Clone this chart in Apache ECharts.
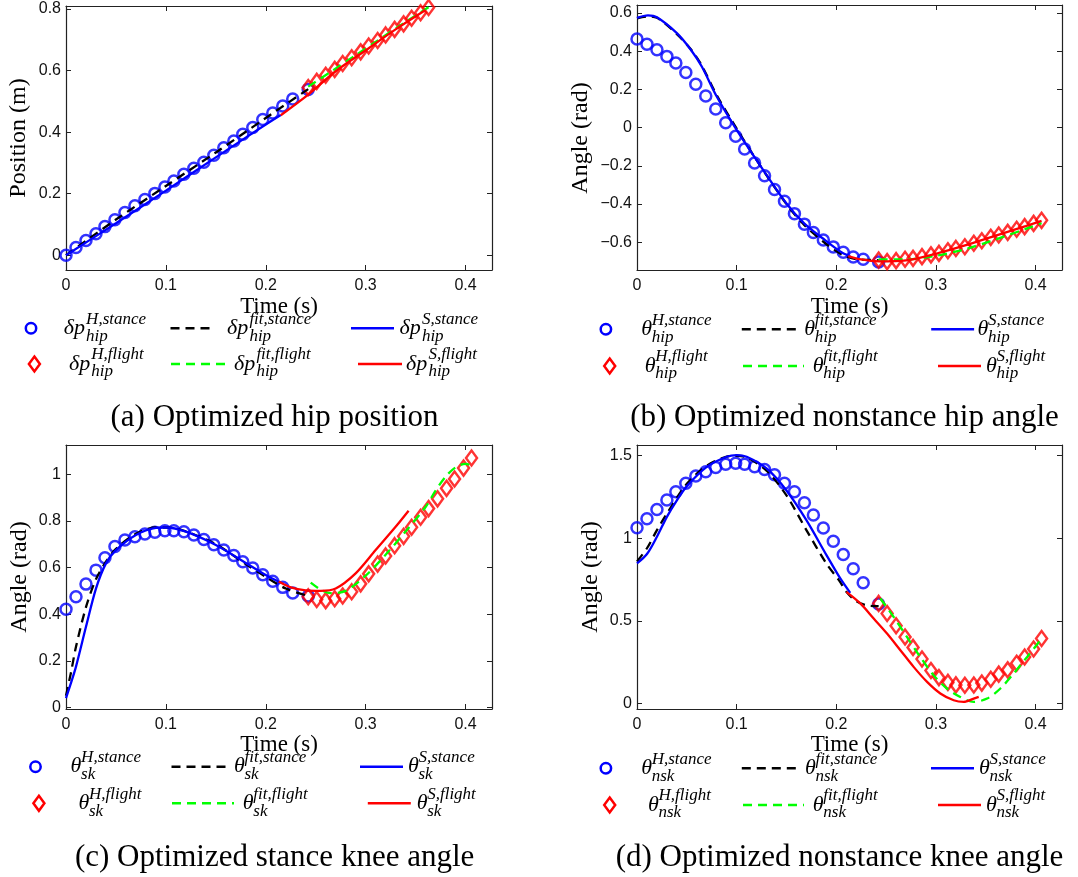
<!DOCTYPE html>
<html>
<head>
<meta charset="utf-8">
<script src="https://cdn.jsdelivr.net/npm/echarts@6/dist/echarts.min.js"></script>
<style>
  html, body { margin: 0; padding: 0; background: #fff; }
  #chart { width: 1078px; height: 877px; }
</style>
</head>
<body>
<div id="chart"></div>
<script>
// ---- sample times (s) ----
const tStanceH = [0, 0.010, 0.020, 0.030, 0.039, 0.049, 0.059, 0.069, 0.079, 0.089, 0.099, 0.108, 0.118,
  0.128, 0.138, 0.148, 0.158, 0.168, 0.177, 0.187, 0.197, 0.207, 0.217, 0.227, 0.2425];
const tFlightH = [0.2425, 0.251, 0.260, 0.269, 0.277, 0.286, 0.295, 0.303, 0.312, 0.320, 0.329, 0.338,
  0.346, 0.355, 0.363, 0.372, 0.381, 0.389, 0.398, 0.406];

// ---- tick values ----
const xTicks = [0, 0.1, 0.2, 0.3, 0.4];
const yTicksA = [0, 0.2, 0.4, 0.6, 0.8];
const yTicksB = [-0.6, -0.4, -0.2, 0, 0.2, 0.4, 0.6];
const yTicksC = [0, 0.2, 0.4, 0.6, 0.8, 1];
const yTicksD = [0, 0.5, 1, 1.5];

// ---- (a) hip position (m) ----
const hipPosHStance = [0, 0.025, 0.048, 0.070, 0.093, 0.115, 0.139, 0.161, 0.181, 0.201, 0.222, 0.241, 0.263,
  0.283, 0.302, 0.325, 0.349, 0.371, 0.393, 0.415, 0.441, 0.462, 0.485, 0.508, 0.539];
const hipPosHFlight = [0.545, 0.565, 0.585, 0.604, 0.623, 0.642, 0.661, 0.680, 0.698, 0.716, 0.734, 0.752,
  0.770, 0.788, 0.805];
const hipPosFitStanceT = [0, 0.05, 0.1, 0.15, 0.2, 0.2425];
const hipPosFitStance = [0, 0.116, 0.225, 0.334, 0.446, 0.540];
const hipPosSStanceT = [0, 0.05, 0.1, 0.15, 0.2, 0.215];
const hipPosSStance = [0, 0.104, 0.210, 0.318, 0.425, 0.456];
const hipPosFitFlightT = [0.2425, 0.267, 0.29, 0.313, 0.337, 0.363];
const hipPosFitFlight = [0.548, 0.600, 0.650, 0.700, 0.752, 0.806];
const hipPosSFlightT = [0.215, 0.2425, 0.27, 0.30, 0.33, 0.36];
const hipPosSFlight = [0.455, 0.522, 0.598, 0.666, 0.734, 0.797];

// ---- (b) nonstance hip angle (rad) ----
const hipAngHStance = [0.464, 0.437, 0.408, 0.373, 0.338, 0.289, 0.227, 0.166, 0.098, 0.026, -0.045, -0.112,
  -0.185, -0.252, -0.324, -0.385, -0.450, -0.505, -0.549, -0.588, -0.624, -0.652, -0.677, -0.689, -0.703];
const hipAngHFlight = [-0.693, -0.701, -0.696, -0.689, -0.684, -0.675, -0.666, -0.658, -0.644, -0.632, -0.623,
  -0.605, -0.592, -0.574, -0.562, -0.548, -0.532, -0.518, -0.501, -0.485];
const hipAngFitStanceT = [0, 0.01, 0.02, 0.04, 0.054, 0.065, 0.08, 0.1, 0.12, 0.15, 0.168, 0.189, 0.206, 0.22, 0.2425];
const hipAngFitStance = [0.572, 0.582, 0.575, 0.49, 0.41, 0.325, 0.17, -0.005, -0.17, -0.40, -0.51, -0.605, -0.665, -0.688, -0.693];
const hipAngSStanceT = [0, 0.011, 0.02, 0.04, 0.054, 0.065, 0.08, 0.1, 0.12, 0.15, 0.168, 0.189, 0.206, 0.214];
const hipAngSStance = [0.575, 0.588, 0.578, 0.495, 0.408, 0.32, 0.163, -0.012, -0.17, -0.397, -0.502, -0.59, -0.655, -0.672];
const hipAngFitFlightT = [0.2425, 0.27, 0.30, 0.33, 0.36, 0.39, 0.406];
const hipAngFitFlight = [-0.69, -0.69, -0.67, -0.635, -0.585, -0.53, -0.50];
const hipAngSFlightT = [0.212, 0.225, 0.2425, 0.27, 0.30, 0.33, 0.36, 0.39, 0.406];
const hipAngSFlight = [-0.672, -0.69, -0.70, -0.695, -0.66, -0.615, -0.565, -0.515, -0.488];

// ---- (c) stance knee angle (rad) ----
const skHStance = [0.421, 0.475, 0.529, 0.589, 0.642, 0.690, 0.718, 0.732, 0.744, 0.752, 0.758, 0.758, 0.754,
  0.740, 0.720, 0.698, 0.675, 0.652, 0.625, 0.598, 0.569, 0.541, 0.515, 0.491, 0.478];
const skHFlight = [0.475, 0.463, 0.458, 0.466, 0.478, 0.496, 0.530, 0.573, 0.615, 0.650, 0.694, 0.734,
  0.773, 0.816, 0.853, 0.895, 0.940, 0.980, 1.027, 1.070];
const skFitStanceT = [0, 0.005, 0.01, 0.02, 0.03, 0.04, 0.05, 0.07, 0.09, 0.1, 0.12, 0.15, 0.18, 0.2, 0.22, 0.2425];
const skFitStance = [0.05, 0.15, 0.26, 0.43, 0.55, 0.625, 0.68, 0.745, 0.772, 0.772, 0.755, 0.70, 0.615, 0.56, 0.51, 0.478];
const skSStanceT = [0, 0.005, 0.01, 0.02, 0.03, 0.04, 0.05, 0.07, 0.09, 0.1, 0.12, 0.15, 0.18, 0.2, 0.215];
const skSStance = [0.04, 0.105, 0.175, 0.346, 0.51, 0.618, 0.675, 0.74, 0.77, 0.772, 0.754, 0.697, 0.62, 0.568, 0.535];
const skFitFlightT = [0.245, 0.255, 0.265, 0.28, 0.30, 0.32, 0.34, 0.36, 0.37, 0.38, 0.39, 0.40, 0.405];
const skFitFlight = [0.535, 0.505, 0.49, 0.50, 0.565, 0.655, 0.755, 0.86, 0.93, 0.99, 1.03, 1.045, 1.04];
const skSFlightT = [0.213, 0.225, 0.24, 0.255, 0.27, 0.29, 0.31, 0.33, 0.343];
const skSFlight = [0.54, 0.515, 0.502, 0.50, 0.51, 0.575, 0.675, 0.775, 0.844];

// ---- (d) nonstance knee angle (rad) ----
const nskHStance = [1.064, 1.119, 1.175, 1.232, 1.282, 1.333, 1.377, 1.403, 1.429, 1.448, 1.454, 1.448, 1.433,
  1.417, 1.385, 1.333, 1.282, 1.215, 1.141, 1.062, 0.983, 0.902, 0.816, 0.731, 0.602];
const nskHFlight = [0.606, 0.545, 0.471, 0.403, 0.340, 0.270, 0.200, 0.157, 0.128, 0.113, 0.111, 0.112,
  0.124, 0.147, 0.178, 0.204, 0.244, 0.282, 0.330, 0.394];
const nskFitStanceT = [0, 0.01, 0.02, 0.03, 0.05, 0.07, 0.09, 0.1, 0.11, 0.13, 0.15, 0.17, 0.19, 0.2026, 0.211, 0.22, 0.23, 0.2425];
const nskFitStance = [0.86, 0.94, 1.05, 1.15, 1.33, 1.44, 1.495, 1.50, 1.49, 1.41, 1.26, 1.05, 0.848, 0.747, 0.67, 0.62, 0.595, 0.59];
const nskSStanceT = [0, 0.01, 0.02, 0.03, 0.04, 0.05, 0.07, 0.09, 0.1, 0.11, 0.13, 0.15, 0.17, 0.19, 0.204, 0.214];
const nskSStance = [0.848, 0.905, 1.01, 1.13, 1.23, 1.316, 1.433, 1.494, 1.504, 1.494, 1.423, 1.29, 1.11, 0.90, 0.757, 0.67];
const nskFitFlightT = [0.2442, 0.2575, 0.2709, 0.2843, 0.2977, 0.311, 0.3244, 0.3379, 0.3513, 0.3647, 0.378, 0.3915, 0.4048];
const nskFitFlight = [0.636, 0.525, 0.403, 0.282, 0.171, 0.091, 0.04, 0.01, 0.03, 0.091, 0.182, 0.282, 0.383];
const nskSFlightT = [0.2101, 0.2241, 0.2375, 0.2509, 0.2643, 0.2776, 0.2911, 0.3044, 0.3178, 0.3279, 0.3379, 0.3429];
const nskSFlight = [0.676, 0.606, 0.515, 0.424, 0.323, 0.222, 0.131, 0.061, 0.02, 0.01, 0.03, 0.04];

// ---- styling ----
const BLUE = '#0000ff', RED = '#ff0000', GREEN = '#00ff00', BLACK = '#000000';
const AXIS = '#222222';
const X_MAX = 0.4265;
const SERIF = '"Liberation Serif", "Times New Roman", serif';
const SANS = '"Liberation Sans", Arial, sans-serif';
const DASH = [9, 6];

const pairs = (ts, vs) => ts.map((t, i) => [t, vs[i]]);
const fmtTick = v => {
  const r = Math.round(v * 100) / 100;
  return (r < 0 ? '\u2212' : '') + String(Math.abs(r));
};

const panels = [
  {
    grid: { left: 66, top: 6, width: 426, height: 264 },
    yMin: -0.048, yMax: 0.81, yTicks: yTicksA,
    hS: pairs(tStanceH, hipPosHStance), hF: pairs(tFlightH.slice(0, 15), hipPosHFlight),
    fitS: pairs(hipPosFitStanceT, hipPosFitStance), sS: pairs(hipPosSStanceT, hipPosSStance),
    fitF: pairs(hipPosFitFlightT, hipPosFitFlight), sF: pairs(hipPosSFlightT, hipPosSFlight)
  },
  {
    grid: { left: 637, top: 5, width: 425, height: 265 },
    yMin: -0.745, yMax: 0.642, yTicks: yTicksB,
    hS: pairs(tStanceH, hipAngHStance), hF: pairs(tFlightH, hipAngHFlight),
    fitS: pairs(hipAngFitStanceT, hipAngFitStance), sS: pairs(hipAngSStanceT, hipAngSStance),
    fitF: pairs(hipAngFitFlightT, hipAngFitFlight), sF: pairs(hipAngSFlightT, hipAngSFlight)
  },
  {
    grid: { left: 66, top: 445, width: 426, height: 264 },
    yMin: -0.007, yMax: 1.126, yTicks: yTicksC,
    hS: pairs(tStanceH, skHStance), hF: pairs(tFlightH, skHFlight),
    fitS: pairs(skFitStanceT, skFitStance), sS: pairs(skSStanceT, skSStance),
    fitF: pairs(skFitFlightT, skFitFlight), sF: pairs(skSFlightT, skSFlight)
  },
  {
    grid: { left: 637, top: 445, width: 425, height: 264 },
    yMin: -0.033, yMax: 1.565, yTicks: yTicksD,
    hS: pairs(tStanceH, nskHStance), hF: pairs(tFlightH, nskHFlight),
    fitS: pairs(nskFitStanceT, nskFitStance), sS: pairs(nskSStanceT, nskSStance),
    fitF: pairs(nskFitFlightT, nskFitFlight), sF: pairs(nskSFlightT, nskSFlight)
  }
];

const xAxes = [], yAxes = [], series = [];
panels.forEach((p, g) => {
  const tickStyle = { lineStyle: { color: AXIS, width: 1 } };
  ['bottom', 'top'].forEach(pos => {
    xAxes.push({
      type: 'value', gridIndex: g, position: pos, min: 0, max: X_MAX,
      axisLine: { show: true, onZero: false, lineStyle: { color: AXIS, width: 1.2 } },
      axisTick: Object.assign({ show: true, inside: true, length: 5, customValues: xTicks }, tickStyle),
      axisLabel: pos === 'bottom'
        ? { show: true, customValues: xTicks, formatter: fmtTick, margin: 8, color: '#111', fontFamily: SANS, fontSize: 16 }
        : { show: false },
      splitLine: { show: false }
    });
  });
  ['left', 'right'].forEach(pos => {
    yAxes.push({
      type: 'value', gridIndex: g, position: pos, min: p.yMin, max: p.yMax,
      axisLine: { show: true, onZero: false, lineStyle: { color: AXIS, width: 1.2 } },
      axisTick: Object.assign({ show: true, inside: true, length: 5, customValues: p.yTicks }, tickStyle),
      axisLabel: pos === 'left'
        ? { show: true, customValues: p.yTicks, formatter: fmtTick, margin: 5, color: '#111', fontFamily: SANS, fontSize: 16 }
        : { show: false },
      splitLine: { show: false }
    });
  });
  const ax = { xAxisIndex: 2 * g, yAxisIndex: 2 * g };
  const line = (data, color, dashed) => Object.assign({
    type: 'line', data, showSymbol: false, smooth: 0.3, silent: true,
    lineStyle: { color, width: 2.3, type: dashed ? DASH : 'solid' }
  }, ax);
  series.push(Object.assign({
    type: 'scatter', data: p.hS, symbol: 'circle', symbolSize: 11, silent: true,
    itemStyle: { color: 'rgba(0,0,0,0)', borderColor: BLUE, borderWidth: 2.5 }
  }, ax));
  series.push(line(p.fitS, BLACK, true));
  series.push(line(p.sS, BLUE, false));
  series.push(Object.assign({
    type: 'scatter', data: p.hF, symbol: 'diamond', symbolSize: [11, 15], silent: true,
    itemStyle: { color: 'rgba(0,0,0,0)', borderColor: RED, borderWidth: 2.5 }
  }, ax));
  series.push(line(p.fitF, GREEN, true));
  series.push(line(p.sF, RED, false));
});

// ---- text and legend graphics ----
const elements = [];
const txt = (x, y, text, font, extra) => elements.push(Object.assign({
  type: 'text', x, y, silent: true,
  style: { text, font, fill: '#000', align: 'center', verticalAlign: 'middle', textAlign: 'center', textVerticalAlign: 'middle' }
}, extra || {}));

// axis titles
[['Position (m)', 19, 138], ['Angle (rad)', 580.5, 138], ['Angle (rad)', 20, 577], ['Angle (rad)', 590.6, 577]]
  .forEach(([s, x, y]) => txt(x, y, s, '24px ' + SERIF, { rotation: Math.PI / 2 }));
[[279, 307], [849.5, 307], [279, 745], [849.5, 745]].forEach(([x, y]) => txt(x, y, 'Time (s)', '23px ' + SERIF));

// captions
[['(a) Optimized hip position', 274.5, 418], ['(b) Optimized nonstance hip angle', 844.5, 418],
 ['(c) Optimized stance knee angle', 274.6, 858], ['(d) Optimized nonstance knee angle', 839.5, 858]]
  .forEach(([s, x, y]) => txt(x, y, s, '31px ' + SERIF));

function mathLabel(x, y, base, bw, sup, sub) {
  const left = { align: 'left', verticalAlign: 'middle', textAlign: 'left', textVerticalAlign: 'middle', fill: '#000' };
  elements.push({ type: 'text', x, y, silent: true, style: Object.assign({ text: base, font: 'italic 22px ' + SERIF }, left) });
  elements.push({ type: 'text', x: x + bw, y: y - 9, silent: true, style: Object.assign({ text: sup, font: 'italic 17px ' + SERIF }, left) });
  elements.push({ type: 'text', x: x + bw, y: y + 8, silent: true, style: Object.assign({ text: sub, font: 'italic 17px ' + SERIF }, left) });
}
function legCircle(cx, cy) {
  elements.push({ type: 'circle', silent: true, shape: { cx, cy, r: 5.2 }, style: { fill: 'none', stroke: BLUE, lineWidth: 2.5 } });
}
function legDiamond(cx, cy) {
  elements.push({ type: 'polygon', silent: true, shape: { points: [[cx, cy - 7.5], [cx + 5.5, cy], [cx, cy + 7.5], [cx - 5.5, cy]] },
    style: { fill: 'none', stroke: RED, lineWidth: 2.5 } });
}
function legLine(x1, x2, y, color, dashed) {
  elements.push({ type: 'line', silent: true, shape: { x1, y1: y, x2, y2: y },
    style: { stroke: color, lineWidth: 2.5, lineDash: dashed ? DASH : null } });
}

const legendSpecs = [
  { y: [328.3, 364], base: '\u03b4p', bw: 22.4, sub: 'hip', sym: [31, 34.4],
    tx: [[63.7, 227, 399.5], [68.9, 234, 406]], ln: [[[170.5, 213.5], [351, 394]], [[171, 227], [358, 402]]] },
  { y: [329.3, 366], base: '\u03b8', bw: 10.5, sub: 'hip', sym: [605.9, 609.7],
    tx: [[641.2, 804.2, 977.5], [644.7, 812.8, 986]], ln: [[[741.8, 799], [931.2, 974.1]], [[743, 804], [938, 981]]] },
  { y: [766.7, 803.3], base: '\u03b8', bw: 10.5, sub: 'sk', sym: [35.5, 38.9],
    tx: [[70.6, 234, 408], [78.5, 242.8, 416.7]], ln: [[[171.5, 229], [360, 403]], [[172, 234], [367.8, 410.8]]] },
  { y: [768.3, 805], base: '\u03b8', bw: 10.5, sub: 'nsk', sym: [605.9, 609.7],
    tx: [[641.2, 805, 979], [648, 812.8, 986]], ln: [[[741.8, 799], [931, 974]], [[743, 804], [938, 981]]] }
];
const supRows = [['H,stance', 'fit,stance', 'S,stance'], ['H,flight', 'fit,flight', 'S,flight']];

legendSpecs.forEach(L => {
  legCircle(L.sym[0], L.y[0]);
  legDiamond(L.sym[1], L.y[1]);
  legLine(L.ln[0][0][0], L.ln[0][0][1], L.y[0], BLACK, true);
  legLine(L.ln[0][1][0], L.ln[0][1][1], L.y[0], BLUE, false);
  legLine(L.ln[1][0][0], L.ln[1][0][1], L.y[1], GREEN, true);
  legLine(L.ln[1][1][0], L.ln[1][1][1], L.y[1], RED, false);
  for (let r = 0; r < 2; r++) {
    for (let c = 0; c < 3; c++) {
      mathLabel(L.tx[r][c], L.y[r], L.base, L.bw, supRows[r][c], L.sub);
    }
  }
});

const chart = echarts.init(document.getElementById('chart'), null, { renderer: 'canvas' });
chart.setOption({
  animation: false,
  backgroundColor: '#ffffff',
  grid: panels.map(p => Object.assign({ containLabel: false }, p.grid)),
  xAxis: xAxes,
  yAxis: yAxes,
  series,
  graphic: { elements }
});
</script>
</body>
</html>
